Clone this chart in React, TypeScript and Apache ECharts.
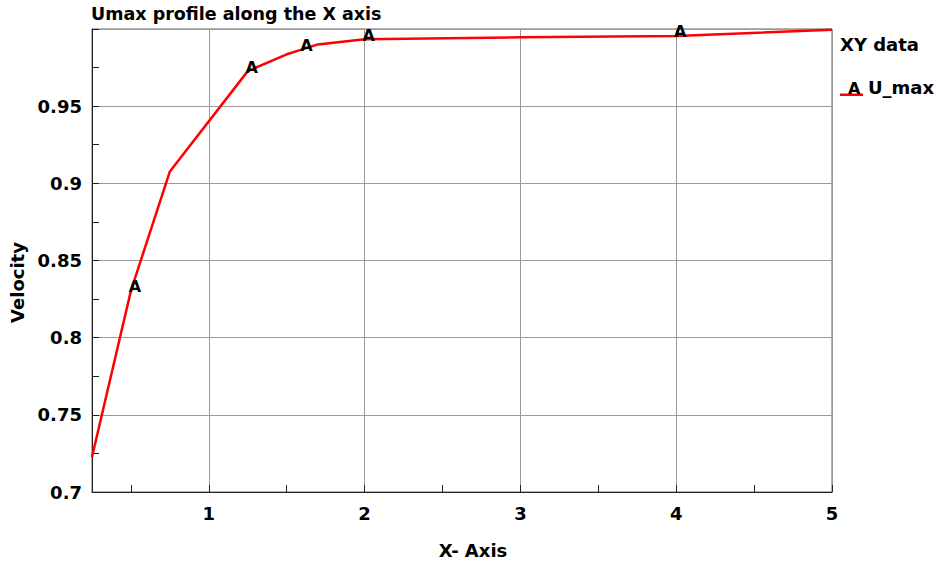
import React, { useEffect, useRef } from "react";
import * as echarts from "echarts";

const chartTitle = "Umax profile along the X axis";
const legendTitle = "XY data";
const seriesName = "U_max";
const xAxisName = "X- Axis";
const yAxisName = "Velocity";

const xValues = [0.25, 0.5, 0.75, 1.25, 1.5, 1.6, 1.7, 2.0, 3.0, 4.0, 5.0];
const uMax = [0.7227, 0.8305, 0.9077, 0.9727, 0.9836, 0.9868, 0.99, 0.9934, 0.9946, 0.9955, 0.9995];
const markedX = [0.5, 1.25, 1.6, 2.0, 4.0];
const markerLabel = "A";

const FONT = "DejaVu Sans";

export default function App() {
  const ref = useRef<HTMLDivElement>(null);
  useEffect(() => {
    if (!ref.current) return;
    const chart = echarts.init(ref.current, undefined, { renderer: "svg" });
    const lineData = xValues.map((x, i) => [x, uMax[i]]);
    const markData = markedX.map((x) => [x, uMax[xValues.indexOf(x)]]);
    chart.setOption({
      animation: false,
      backgroundColor: "#ffffff",
      textStyle: { fontFamily: FONT },
      title: [
        {
          text: chartTitle,
          left: 91,
          top: 5,
          padding: 0,
          textStyle: { fontFamily: FONT, fontWeight: "bold", fontSize: 17.5, color: "#000" },
        },
        {
          text: legendTitle,
          left: 840,
          top: 35,
          padding: 0,
          textStyle: { fontFamily: FONT, fontWeight: "bold", fontSize: 18, color: "#000" },
        },
      ],
      legend: {
        data: [seriesName],
        left: 840,
        top: 78,
        padding: 0,
        itemWidth: 23,
        itemHeight: 18,
        icon: "path://M0,0 L0.01,0 M0,15.5 L23,15.5 L23,18 L0,18 Z",
        textStyle: {
          fontFamily: FONT,
          fontWeight: "bold",
          fontSize: 18,
          color: "#000",
        },
      },
      graphic: [
        {
          type: "text",
          left: 848,
          top: 80,
          style: { text: markerLabel, fontFamily: FONT, fontWeight: "bold", fontSize: 16, fill: "#000" },
          z: 100,
        },
      ],
      grid: {
        left: 92,
        right: 104,
        top: 29,
        bottom: 69,
        containLabel: false,
        outerBoundsMode: "none",
        show: true,
        borderColor: "#666",
        borderWidth: 1,
        backgroundColor: "transparent",
      },
      xAxis: {
        type: "value",
        min: 0.25,
        max: 5,
        splitNumber: 5,
        name: xAxisName,
        nameLocation: "middle",
        nameGap: 49,
        nameTextStyle: {
          fontFamily: FONT,
          fontWeight: "bold",
          fontSize: 18,
          color: "#000",
          padding: [0, 0, 0, 22],
        },
        axisLine: { show: true, lineStyle: { color: "#222", width: 1 } },
        axisTick: { show: true, inside: true, length: 7, lineStyle: { color: "#222" } },
        minorTick: { show: true, splitNumber: 2, length: 7, lineStyle: { color: "#222" } },
        axisLabel: {
          showMinLabel: false,
          margin: 12,
          fontFamily: FONT,
          fontWeight: "bold",
          fontSize: 18,
          color: "#000",
        },
        splitLine: { show: true, lineStyle: { color: "#9a9a9a", width: 1 } },
      },
      yAxis: {
        type: "value",
        min: 0.7,
        max: 1.0,
        interval: 0.05,
        name: yAxisName,
        nameLocation: "middle",
        nameGap: 65,
        nameTextStyle: {
          fontFamily: FONT,
          fontWeight: "bold",
          fontSize: 18,
          color: "#000",
          padding: [0, 44, 0, 0],
        },
        axisLine: { show: true, lineStyle: { color: "#222", width: 1 } },
        axisTick: { show: true, inside: true, length: 7, lineStyle: { color: "#222" } },
        minorTick: { show: true, splitNumber: 2, length: 7, lineStyle: { color: "#222" } },
        axisLabel: {
          showMaxLabel: false,
          margin: 10,
          fontFamily: FONT,
          fontWeight: "bold",
          fontSize: 18,
          color: "#000",
          formatter: (v: number) => String(parseFloat(v.toFixed(3))),
        },
        splitLine: { show: true, lineStyle: { color: "#9a9a9a", width: 1 } },
      },
      series: [
        {
          name: seriesName,
          type: "line",
          data: lineData,
          symbol: "none",
          lineStyle: { color: "#ff0000", width: 2.5 },
          itemStyle: { color: "#ff0000" },
          z: 3,
        },
        {
          name: "markers",
          type: "scatter",
          data: markData,
          symbol: "circle",
          symbolSize: 2,
          itemStyle: { color: "rgba(0,0,0,0)" },
          label: {
            show: true,
            formatter: () => markerLabel,
            position: "inside",
            offset: [4, -4],
            fontFamily: FONT,
            fontWeight: "bold",
            fontSize: 16,
            color: "#000",
            opacity: 1,
          },
          z: 5,
        },
      ],
    });
    return () => chart.dispose();
  }, []);
  return <div ref={ref} style={{ width: 936, height: 561, position: "absolute", left: 0, top: 0 }} />;
}
